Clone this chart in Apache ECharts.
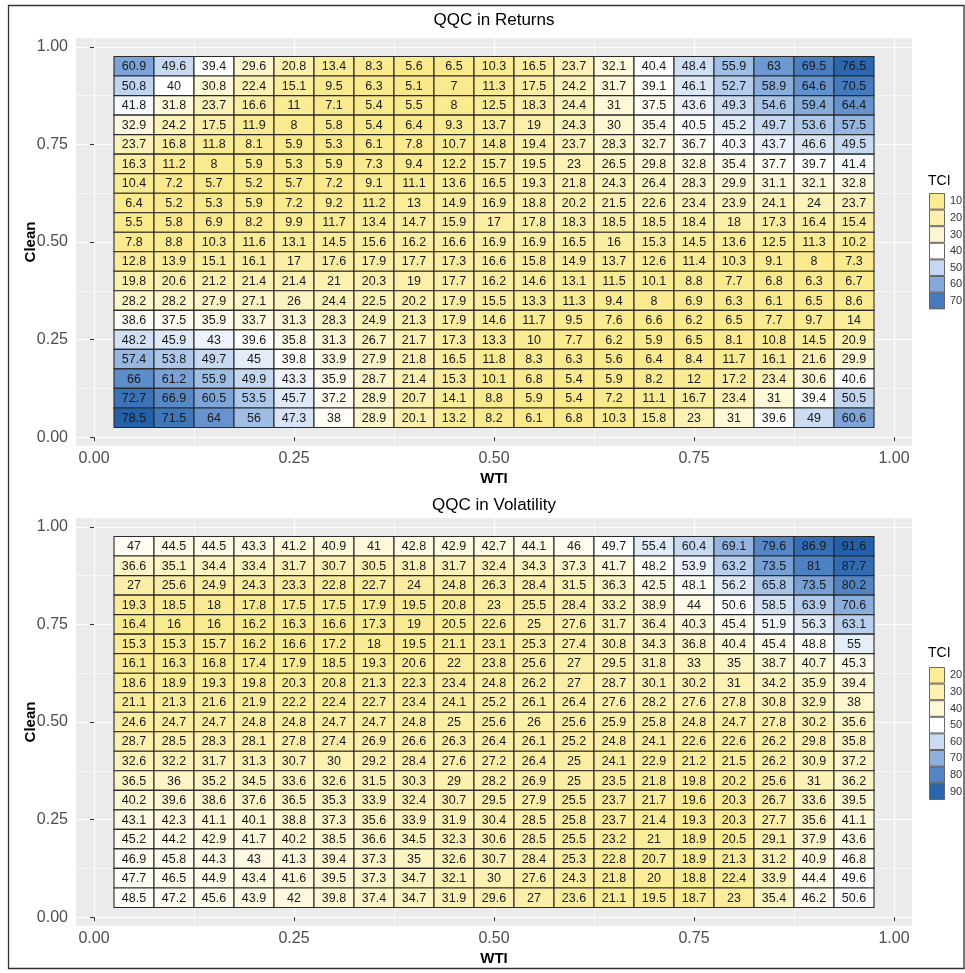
<!DOCTYPE html>
<html><head><meta charset="utf-8">
<script src="https://cdn.jsdelivr.net/npm/echarts@6/dist/echarts.min.js"></script>
<style>html,body{margin:0;padding:0;background:#fff}#c{width:965px;height:973px}</style>
</head><body><div id="c"></div>
<script>
// ---------------- data ----------------
const wtiQuantiles = [0.05,0.10,0.15,0.20,0.25,0.30,0.35,0.40,0.45,0.50,0.55,0.60,0.65,0.70,0.75,0.80,0.85,0.90,0.95];
const cleanQuantiles = [0.95,0.90,0.85,0.80,0.75,0.70,0.65,0.60,0.55,0.50,0.45,0.40,0.35,0.30,0.25,0.20,0.15,0.10,0.05];
const axisTicks = [0, 0.25, 0.5, 0.75, 1];
const minorTicks = [0.125, 0.375, 0.625, 0.875];
const returnsLegend = [10, 20, 30, 40, 50, 60, 70];
const volatilityLegend = [20, 30, 40, 50, 60, 70, 80, 90];

// rows from Clean = 0.95 (top) down to 0.05; columns WTI 0.05 .. 0.95
const returnsTCI = [
 [60.9,49.6,39.4,29.6,20.8,13.4,8.3,5.6,6.5,10.3,16.5,23.7,32.1,40.4,48.4,55.9,63,69.5,76.5],
 [50.8,40,30.8,22.4,15.1,9.5,6.3,5.1,7,11.3,17.5,24.2,31.7,39.1,46.1,52.7,58.9,64.6,70.5],
 [41.8,31.8,23.7,16.6,11,7.1,5.4,5.5,8,12.5,18.3,24.4,31,37.5,43.6,49.3,54.6,59.4,64.4],
 [32.9,24.2,17.5,11.9,8,5.8,5.4,6.4,9.3,13.7,19,24.3,30,35.4,40.5,45.2,49.7,53.6,57.5],
 [23.7,16.8,11.8,8.1,5.9,5.3,6.1,7.8,10.7,14.8,19.4,23.7,28.3,32.7,36.7,40.3,43.7,46.6,49.5],
 [16.3,11.2,8,5.9,5.3,5.9,7.3,9.4,12.2,15.7,19.5,23,26.5,29.8,32.8,35.4,37.7,39.7,41.4],
 [10.4,7.2,5.7,5.2,5.7,7.2,9.1,11.1,13.6,16.5,19.3,21.8,24.3,26.4,28.3,29.9,31.1,32.1,32.8],
 [6.4,5.2,5.3,5.9,7.2,9.2,11.2,13,14.9,16.9,18.8,20.2,21.5,22.6,23.4,23.9,24.1,24,23.7],
 [5.5,5.8,6.9,8.2,9.9,11.7,13.4,14.7,15.9,17,17.8,18.3,18.5,18.5,18.4,18,17.3,16.4,15.4],
 [7.8,8.8,10.3,11.6,13.1,14.5,15.6,16.2,16.6,16.9,16.9,16.5,16,15.3,14.5,13.6,12.5,11.3,10.2],
 [12.8,13.9,15.1,16.1,17,17.6,17.9,17.7,17.3,16.6,15.8,14.9,13.7,12.6,11.4,10.3,9.1,8,7.3],
 [19.8,20.6,21.2,21.4,21.4,21,20.3,19,17.7,16.2,14.6,13.1,11.5,10.1,8.8,7.7,6.8,6.3,6.7],
 [28.2,28.2,27.9,27.1,26,24.4,22.5,20.2,17.9,15.5,13.3,11.3,9.4,8,6.9,6.3,6.1,6.5,8.6],
 [38.6,37.5,35.9,33.7,31.3,28.3,24.9,21.3,17.9,14.6,11.7,9.5,7.6,6.6,6.2,6.5,7.7,9.7,14],
 [48.2,45.9,43,39.6,35.8,31.3,26.7,21.7,17.3,13.3,10,7.7,6.2,5.9,6.5,8.1,10.8,14.5,20.9],
 [57.4,53.8,49.7,45,39.8,33.9,27.9,21.8,16.5,11.8,8.3,6.3,5.6,6.4,8.4,11.7,16.1,21.6,29.9],
 [66,61.2,55.9,49.9,43.3,35.9,28.7,21.4,15.3,10.1,6.8,5.4,5.9,8.2,12,17.2,23.4,30.6,40.6],
 [72.7,66.9,60.5,53.5,45.7,37.2,28.9,20.7,14.1,8.8,5.9,5.4,7.2,11.1,16.7,23.4,31,39.4,50.5],
 [78.5,71.5,64,56,47.3,38,28.9,20.1,13.2,8.2,6.1,6.8,10.3,15.8,23,31,39.6,49,60.6]
];
const volatilityTCI = [
 [47,44.5,44.5,43.3,41.2,40.9,41,42.8,42.9,42.7,44.1,46,49.7,55.4,60.4,69.1,79.6,86.9,91.6],
 [36.6,35.1,34.4,33.4,31.7,30.7,30.5,31.8,31.7,32.4,34.3,37.3,41.7,48.2,53.9,63.2,73.5,81,87.7],
 [27,25.6,24.9,24.3,23.3,22.8,22.7,24,24.8,26.3,28.4,31.5,36.3,42.5,48.1,56.2,65.8,73.5,80.2],
 [19.3,18.5,18,17.8,17.5,17.5,17.9,19.5,20.8,23,25.5,28.4,33.2,38.9,44,50.6,58.5,63.9,70.6],
 [16.4,16,16,16.2,16.3,16.6,17.3,19,20.5,22.6,25,27.6,31.7,36.4,40.3,45.4,51.9,56.3,63.1],
 [15.3,15.3,15.7,16.2,16.6,17.2,18,19.5,21.1,23.1,25.3,27.4,30.8,34.3,36.8,40.4,45.4,48.8,55],
 [16.1,16.3,16.8,17.4,17.9,18.5,19.3,20.6,22,23.8,25.6,27,29.5,31.8,33,35,38.7,40.7,45.3],
 [18.6,18.9,19.3,19.8,20.3,20.8,21.3,22.3,23.4,24.8,26.2,27,28.7,30.1,30.2,31,34.2,35.9,39.4],
 [21.1,21.3,21.6,21.9,22.2,22.4,22.7,23.4,24.1,25.2,26.1,26.4,27.6,28.2,27.6,27.8,30.8,32.9,38],
 [24.6,24.7,24.7,24.8,24.8,24.7,24.7,24.8,25,25.6,26,25.6,25.9,25.8,24.8,24.7,27.8,30.2,35.6],
 [28.7,28.5,28.3,28.1,27.8,27.4,26.9,26.6,26.3,26.4,26.1,25.2,24.8,24.1,22.6,22.6,26.2,29.8,35.8],
 [32.6,32.2,31.7,31.3,30.7,30,29.2,28.4,27.6,27.2,26.4,25,24.1,22.9,21.2,21.5,26.2,30.9,37.2],
 [36.5,36,35.2,34.5,33.6,32.6,31.5,30.3,29,28.2,26.9,25,23.5,21.8,19.8,20.2,25.6,31,36.2],
 [40.2,39.6,38.6,37.6,36.5,35.3,33.9,32.4,30.7,29.5,27.9,25.5,23.7,21.7,19.6,20.3,26.7,33.6,39.5],
 [43.1,42.3,41.1,40.1,38.8,37.3,35.6,33.9,31.9,30.4,28.5,25.8,23.7,21.4,19.3,20.3,27.7,35.6,41.1],
 [45.2,44.2,42.9,41.7,40.2,38.5,36.6,34.5,32.3,30.6,28.5,25.5,23.2,21,18.9,20.5,29.1,37.9,43.6],
 [46.9,45.8,44.3,43,41.3,39.4,37.3,35,32.6,30.7,28.4,25.3,22.8,20.7,18.9,21.3,31.2,40.9,46.8],
 [47.7,46.5,44.9,43.4,41.6,39.5,37.3,34.7,32.1,30,27.6,24.3,21.8,20,18.8,22.4,33.9,44.4,49.6],
 [48.5,47.2,45.6,43.9,42,39.8,37.4,34.7,31.9,29.6,27,23.6,21.1,19.5,18.7,23,35.4,46.2,50.6]
];

// ---------------- colour scale (diverging yellow - white - blue) ----------------
// anchor positions on the rescaled [0,1] scale (0.5 = midpoint) and their RGB colours
const COLOR_ANCHORS = [
  [0.00, [250, 232, 132]],
  [0.15, [251, 236, 150]],
  [0.30, [252, 243, 186]],
  [0.42, [254, 250, 226]],
  [0.50, [255, 255, 255]],
  [0.60, [212, 226, 245]],
  [0.70, [163, 193, 231]],
  [0.80, [108, 152, 208]],
  [0.90, [66, 121, 189]],
  [1.00, [34, 97, 170]]
];
function colorAt(t){
  t=Math.max(0,Math.min(1,t));
  for(let i=1;i<COLOR_ANCHORS.length;i++){
    const [t1,c1]=COLOR_ANCHORS[i-1],[t2,c2]=COLOR_ANCHORS[i];
    if(t<=t2){const u=(t-t1)/(t2-t1);
      return 'rgb('+c1.map((c,k)=>Math.round(c+(c2[k]-c)*u)).join(',')+')';}
  }
  return 'rgb('+COLOR_ANCHORS[COLOR_ANCHORS.length-1][1].join(',')+')';
}
function gradientStops(n){const s=[];for(let i=0;i<=n;i++)s.push(colorAt(i/n));return s;}
function scaleFor(rows, mid){
  let lo=Infinity, hi=-Infinity;
  rows.forEach(r=>r.forEach(v=>{lo=Math.min(lo,v);hi=Math.max(hi,v);}));
  const d=Math.max(hi-mid, mid-lo);
  return {min: mid-d, max: mid+d};
}
const retScale = scaleFor(returnsTCI, 40);
const volScale = scaleFor(volatilityTCI, 50);
function valueColor(v, sc){ return colorAt((v-sc.min)/(sc.max-sc.min)); }

// ---------------- build series data ----------------
function cells(rows){
  const out=[];
  rows.forEach((row,i)=>row.forEach((v,j)=>out.push([wtiQuantiles[j], cleanQuantiles[i], v])));
  return out;
}
const HALF = (wtiQuantiles[1]-wtiQuantiles[0])/2;
const FONT = '"Liberation Sans", Arial, sans-serif';

function renderCell(params, api){
  const x=api.value(0), y=api.value(1), v=api.value(2);
  const p0=api.coord([x-HALF, y+HALF]);
  const p1=api.coord([x+HALF, y-HALF]);
  return {type:'group', children:[
    {type:'rect', shape:{x:p0[0], y:p0[1], width:p1[0]-p0[0], height:p1[1]-p0[1]},
     style:{fill:api.visual('color'), stroke:'#2a2a2a', lineWidth:1.1}},
    {type:'text', style:{x:(p0[0]+p1[0])/2, y:(p0[1]+p1[1])/2+0.5, text:String(v), align:'center', verticalAlign:'middle',
      font:'12.5px '+FONT, fill:'#1a1a1a'}}
  ]};
}

const LO=-0.0225, HI=1.0225;
function majorAxis(grid, isX, name){
  return {
    type:'value', gridIndex:grid, min:LO, max:HI, position: isX?'bottom':'left',
    name:name, nameLocation:'middle', nameGap: isX?25:38, nameMoveOverlap:false,
    nameTextStyle:{fontFamily:FONT, fontWeight:'bold', fontSize:15, color:'#000'},
    axisLine:{show:false},
    axisTick:{show:true, length:4, customValues:axisTicks, lineStyle:{color:'#333', width:1}},
    axisLabel:{show:true, customValues:axisTicks, margin: isX?5:8, fontFamily:FONT, fontSize:16, color:'#4D4D4D',
      formatter:v=>v.toFixed(2)},
    splitLine:{show:true, lineStyle:{color:'#FFFFFF', width:1.2}}
  };
}
function minorAxis(grid, isX){
  return {
    type:'value', gridIndex:grid, min:LO, max:HI, position: isX?'bottom':'left',
    axisLine:{show:false}, axisLabel:{show:false},
    axisTick:{show:false, customValues:minorTicks},
    splitLine:{show:true, lineStyle:{color:'#FFFFFF', width:0.6}}
  };
}

const KEY_X=929, KEY_W=16, KEY_H=16.6;
function legendMap(levels, sc, top, seriesIdx){
  return {
    type:'piecewise', seriesIndex:seriesIdx, left:KEY_X, top:top, padding:0, align:'left',
    orient:'vertical', inverse:true, itemWidth:KEY_W, itemHeight:KEY_H, itemGap:0, itemSymbol:'rect',
    textGap:5, selectedMode:false, hoverLink:false,
    textStyle:{fontFamily:FONT, fontSize:11, color:'#333'},
    pieces: levels.map(v=>({value:v, label:String(v), color:valueColor(v, sc)}))
  };
}
function legendOutlines(levels, top){
  return levels.map((v,i)=>({type:'rect', silent:true, z:100,
    shape:{x:KEY_X+0.5, y:top+i*KEY_H+0.5, width:KEY_W-1, height:KEY_H-1},
    style:{fill:'none', stroke:'#666', lineWidth:1}}));
}

const RET_LEG_TOP=193, VOL_LEG_TOP=667;

const option = {
  animation:false,
  backgroundColor:'#fff',
  grid:[
    {left:76, top:38, width:836, height:408, show:true, backgroundColor:'#EBEBEB', borderWidth:0},
    {left:76, top:518, width:836, height:408, show:true, backgroundColor:'#EBEBEB', borderWidth:0}
  ],
  xAxis:[majorAxis(0,true,'WTI'), minorAxis(0,true), majorAxis(1,true,'WTI'), minorAxis(1,true)],
  yAxis:[majorAxis(0,false,'Clean'), minorAxis(0,false), majorAxis(1,false,'Clean'), minorAxis(1,false)],
  visualMap:[
    {type:'continuous', show:false, seriesIndex:0, dimension:2, min:retScale.min, max:retScale.max, inRange:{color:gradientStops(50)}},
    {type:'continuous', show:false, seriesIndex:1, dimension:2, min:volScale.min, max:volScale.max, inRange:{color:gradientStops(50)}},
    legendMap(returnsLegend, retScale, RET_LEG_TOP, 2),
    legendMap(volatilityLegend, volScale, VOL_LEG_TOP, 3)
  ],
  series:[
    {type:'custom', name:'Returns', xAxisIndex:0, yAxisIndex:0, data:cells(returnsTCI), renderItem:renderCell, silent:true},
    {type:'custom', name:'Volatility', xAxisIndex:2, yAxisIndex:2, data:cells(volatilityTCI), renderItem:renderCell, silent:true},
    {type:'scatter', xAxisIndex:0, yAxisIndex:0, data:[], silent:true},
    {type:'scatter', xAxisIndex:2, yAxisIndex:2, data:[], silent:true}
  ],
  graphic:[
    {type:'text', x:494, y:20, style:{text:'QQC in Returns', align:'center', verticalAlign:'middle', font:'17px '+FONT, fill:'#000'}},
    {type:'text', x:494, y:505, style:{text:'QQC in Volatility', align:'center', verticalAlign:'middle', font:'17px '+FONT, fill:'#000'}},
    {type:'text', x:928, y:181, style:{text:'TCI', align:'left', verticalAlign:'middle', font:'14px '+FONT, fill:'#000'}},
    {type:'text', x:928, y:653, style:{text:'TCI', align:'left', verticalAlign:'middle', font:'14px '+FONT, fill:'#000'}},
    ...legendOutlines(returnsLegend, RET_LEG_TOP),
    ...legendOutlines(volatilityLegend, VOL_LEG_TOP),
    {type:'rect', silent:true, shape:{x:8.5, y:5.5, width:955.5, height:963}, style:{fill:'none', stroke:'#333', lineWidth:1.3}}
  ]
};
const chart = echarts.init(document.getElementById('c'), null, {renderer:'canvas'});
chart.setOption(option);
</script></body></html>
